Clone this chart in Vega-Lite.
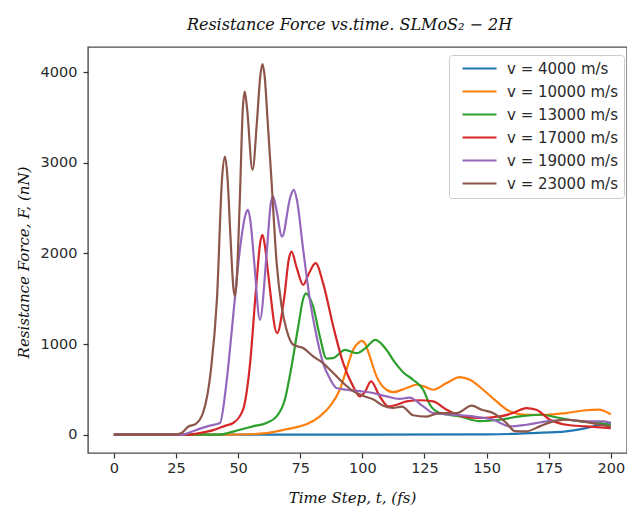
{
  "$schema": "https://vega.github.io/schema/vega-lite/v6.json",
  "width": 539,
  "height": 406,
  "autosize": {"type": "none"},
  "padding": {"left": 88, "top": 47, "right": 0, "bottom": 58},
  "background": "white",
  "title": {"text": "Resistance Force vs.time. SLMoS₂ − 2H", "font": "DejaVu Serif", "fontStyle": "italic", "fontWeight": "normal", "fontSize": 16, "color": "#111111", "anchor": "middle", "frame": "group", "offset": 14, "dx": -8},
  "config": {
    "view": {"stroke": "#4d4d4d", "strokeWidth": 1.4},
    "axis": {"grid": false, "domain": false, "tickSize": 5, "tickColor": "#333333", "tickWidth": 1.2, "labelFont": "DejaVu Sans", "labelFontSize": 14.5, "labelColor": "#2a2a2a", "titleFont": "DejaVu Serif", "titleFontStyle": "italic", "titleFontWeight": "normal", "titleFontSize": 15, "titleColor": "#111111"}
  },
  "data": {"values": [
    {"v": "v = 4000 m/s", "t": 0, "F": 0}, {"v": "v = 4000 m/s", "t": 100, "F": 0}, {"v": "v = 4000 m/s", "t": 150, "F": 3}, {"v": "v = 4000 m/s", "t": 160, "F": 8}, {"v": "v = 4000 m/s", "t": 168.7, "F": 18}, {"v": "v = 4000 m/s", "t": 182, "F": 37}, {"v": "v = 4000 m/s", "t": 190, "F": 73}, {"v": "v = 4000 m/s", "t": 195.6, "F": 110}, {"v": "v = 4000 m/s", "t": 200, "F": 130},

    {"v": "v = 10000 m/s", "t": 0, "F": 0}, {"v": "v = 10000 m/s", "t": 45, "F": 0}, {"v": "v = 10000 m/s", "t": 55, "F": 5}, {"v": "v = 10000 m/s", "t": 61.4, "F": 18}, {"v": "v = 10000 m/s", "t": 69.5, "F": 60}, {"v": "v = 10000 m/s", "t": 74.8, "F": 92}, {"v": "v = 10000 m/s", "t": 77.5, "F": 115}, {"v": "v = 10000 m/s", "t": 82.9, "F": 202}, {"v": "v = 10000 m/s", "t": 86.9, "F": 312}, {"v": "v = 10000 m/s", "t": 90.9, "F": 496}, {"v": "v = 10000 m/s", "t": 93.6, "F": 717}, {"v": "v = 10000 m/s", "t": 96.3, "F": 937}, {"v": "v = 10000 m/s", "t": 98.6, "F": 1020}, {"v": "v = 10000 m/s", "t": 99.8, "F": 1035}, {"v": "v = 10000 m/s", "t": 101, "F": 1010}, {"v": "v = 10000 m/s", "t": 103, "F": 863}, {"v": "v = 10000 m/s", "t": 105.7, "F": 643}, {"v": "v = 10000 m/s", "t": 109.7, "F": 496}, {"v": "v = 10000 m/s", "t": 112.4, "F": 470}, {"v": "v = 10000 m/s", "t": 117.8, "F": 515}, {"v": "v = 10000 m/s", "t": 121.8, "F": 551}, {"v": "v = 10000 m/s", "t": 125, "F": 530}, {"v": "v = 10000 m/s", "t": 128.5, "F": 496}, {"v": "v = 10000 m/s", "t": 133.9, "F": 570}, {"v": "v = 10000 m/s", "t": 139.2, "F": 636}, {"v": "v = 10000 m/s", "t": 143.3, "F": 606}, {"v": "v = 10000 m/s", "t": 148.6, "F": 496}, {"v": "v = 10000 m/s", "t": 154, "F": 367}, {"v": "v = 10000 m/s", "t": 159.4, "F": 257}, {"v": "v = 10000 m/s", "t": 166, "F": 220}, {"v": "v = 10000 m/s", "t": 174, "F": 220}, {"v": "v = 10000 m/s", "t": 182, "F": 239}, {"v": "v = 10000 m/s", "t": 190, "F": 270}, {"v": "v = 10000 m/s", "t": 195, "F": 276}, {"v": "v = 10000 m/s", "t": 200, "F": 225},

    {"v": "v = 13000 m/s", "t": 0, "F": 0}, {"v": "v = 13000 m/s", "t": 42, "F": 0}, {"v": "v = 13000 m/s", "t": 50.7, "F": 55}, {"v": "v = 13000 m/s", "t": 56, "F": 92}, {"v": "v = 13000 m/s", "t": 61.4, "F": 129}, {"v": "v = 13000 m/s", "t": 65.5, "F": 202}, {"v": "v = 13000 m/s", "t": 68.8, "F": 386}, {"v": "v = 13000 m/s", "t": 71.5, "F": 753}, {"v": "v = 13000 m/s", "t": 74.2, "F": 1194}, {"v": "v = 13000 m/s", "t": 76.2, "F": 1500}, {"v": "v = 13000 m/s", "t": 77.3, "F": 1560}, {"v": "v = 13000 m/s", "t": 78.4, "F": 1530}, {"v": "v = 13000 m/s", "t": 80.2, "F": 1415}, {"v": "v = 13000 m/s", "t": 82.9, "F": 1084}, {"v": "v = 13000 m/s", "t": 85.6, "F": 840}, {"v": "v = 13000 m/s", "t": 88.2, "F": 845}, {"v": "v = 13000 m/s", "t": 93, "F": 937}, {"v": "v = 13000 m/s", "t": 97.7, "F": 900}, {"v": "v = 13000 m/s", "t": 101, "F": 950}, {"v": "v = 13000 m/s", "t": 105.3, "F": 1047}, {"v": "v = 13000 m/s", "t": 109.7, "F": 937}, {"v": "v = 13000 m/s", "t": 113, "F": 800}, {"v": "v = 13000 m/s", "t": 116.4, "F": 690}, {"v": "v = 13000 m/s", "t": 120.4, "F": 606}, {"v": "v = 13000 m/s", "t": 124.5, "F": 496}, {"v": "v = 13000 m/s", "t": 127.2, "F": 330}, {"v": "v = 13000 m/s", "t": 131.2, "F": 239}, {"v": "v = 13000 m/s", "t": 139.2, "F": 202}, {"v": "v = 13000 m/s", "t": 147.3, "F": 150}, {"v": "v = 13000 m/s", "t": 155.3, "F": 165}, {"v": "v = 13000 m/s", "t": 163.4, "F": 202}, {"v": "v = 13000 m/s", "t": 171.4, "F": 220}, {"v": "v = 13000 m/s", "t": 179.5, "F": 184}, {"v": "v = 13000 m/s", "t": 187.5, "F": 147}, {"v": "v = 13000 m/s", "t": 195.6, "F": 129}, {"v": "v = 13000 m/s", "t": 200, "F": 110},

    {"v": "v = 17000 m/s", "t": 0, "F": 0}, {"v": "v = 17000 m/s", "t": 30, "F": 0}, {"v": "v = 17000 m/s", "t": 35, "F": 20}, {"v": "v = 17000 m/s", "t": 40, "F": 50}, {"v": "v = 17000 m/s", "t": 45, "F": 100}, {"v": "v = 17000 m/s", "t": 48, "F": 129}, {"v": "v = 17000 m/s", "t": 52, "F": 276}, {"v": "v = 17000 m/s", "t": 54.7, "F": 753}, {"v": "v = 17000 m/s", "t": 57.4, "F": 1672}, {"v": "v = 17000 m/s", "t": 58.9, "F": 2120}, {"v": "v = 17000 m/s", "t": 59.8, "F": 2205}, {"v": "v = 17000 m/s", "t": 60.7, "F": 2100}, {"v": "v = 17000 m/s", "t": 62, "F": 1800}, {"v": "v = 17000 m/s", "t": 65.7, "F": 1121}, {"v": "v = 17000 m/s", "t": 68.5, "F": 1500}, {"v": "v = 17000 m/s", "t": 70.5, "F": 1950}, {"v": "v = 17000 m/s", "t": 71.5, "F": 2021}, {"v": "v = 17000 m/s", "t": 73.5, "F": 1850}, {"v": "v = 17000 m/s", "t": 76.2, "F": 1654}, {"v": "v = 17000 m/s", "t": 78.5, "F": 1780}, {"v": "v = 17000 m/s", "t": 81.2, "F": 1893}, {"v": "v = 17000 m/s", "t": 84.2, "F": 1672}, {"v": "v = 17000 m/s", "t": 88.3, "F": 1194}, {"v": "v = 17000 m/s", "t": 92.3, "F": 790}, {"v": "v = 17000 m/s", "t": 96.3, "F": 533}, {"v": "v = 17000 m/s", "t": 99, "F": 423}, {"v": "v = 17000 m/s", "t": 101, "F": 470}, {"v": "v = 17000 m/s", "t": 103.5, "F": 588}, {"v": "v = 17000 m/s", "t": 107, "F": 423}, {"v": "v = 17000 m/s", "t": 110.5, "F": 312}, {"v": "v = 17000 m/s", "t": 113.8, "F": 331}, {"v": "v = 17000 m/s", "t": 117.8, "F": 367}, {"v": "v = 17000 m/s", "t": 123, "F": 380}, {"v": "v = 17000 m/s", "t": 128.5, "F": 367}, {"v": "v = 17000 m/s", "t": 133.9, "F": 276}, {"v": "v = 17000 m/s", "t": 140.6, "F": 202}, {"v": "v = 17000 m/s", "t": 147.3, "F": 184}, {"v": "v = 17000 m/s", "t": 155.3, "F": 202}, {"v": "v = 17000 m/s", "t": 160.7, "F": 239}, {"v": "v = 17000 m/s", "t": 166, "F": 294}, {"v": "v = 17000 m/s", "t": 170, "F": 276}, {"v": "v = 17000 m/s", "t": 175.5, "F": 165}, {"v": "v = 17000 m/s", "t": 182, "F": 110}, {"v": "v = 17000 m/s", "t": 190, "F": 92}, {"v": "v = 17000 m/s", "t": 200, "F": 73},

    {"v": "v = 19000 m/s", "t": 0, "F": 0}, {"v": "v = 19000 m/s", "t": 27, "F": 0}, {"v": "v = 19000 m/s", "t": 31, "F": 30}, {"v": "v = 19000 m/s", "t": 35, "F": 70}, {"v": "v = 19000 m/s", "t": 38.6, "F": 100}, {"v": "v = 19000 m/s", "t": 42.7, "F": 129}, {"v": "v = 19000 m/s", "t": 45.3, "F": 570}, {"v": "v = 19000 m/s", "t": 48, "F": 1304}, {"v": "v = 19000 m/s", "t": 50.7, "F": 2040}, {"v": "v = 19000 m/s", "t": 53, "F": 2430}, {"v": "v = 19000 m/s", "t": 54, "F": 2481}, {"v": "v = 19000 m/s", "t": 55, "F": 2350}, {"v": "v = 19000 m/s", "t": 56.5, "F": 1900}, {"v": "v = 19000 m/s", "t": 58.8, "F": 1268}, {"v": "v = 19000 m/s", "t": 61.5, "F": 2000}, {"v": "v = 19000 m/s", "t": 63.2, "F": 2560}, {"v": "v = 19000 m/s", "t": 64.1, "F": 2627}, {"v": "v = 19000 m/s", "t": 65.3, "F": 2500}, {"v": "v = 19000 m/s", "t": 67.7, "F": 2186}, {"v": "v = 19000 m/s", "t": 71, "F": 2620}, {"v": "v = 19000 m/s", "t": 72.4, "F": 2701}, {"v": "v = 19000 m/s", "t": 73.6, "F": 2600}, {"v": "v = 19000 m/s", "t": 76.2, "F": 2040}, {"v": "v = 19000 m/s", "t": 78.9, "F": 1488}, {"v": "v = 19000 m/s", "t": 81.6, "F": 1084}, {"v": "v = 19000 m/s", "t": 84.2, "F": 790}, {"v": "v = 19000 m/s", "t": 86.9, "F": 620}, {"v": "v = 19000 m/s", "t": 89.6, "F": 515}, {"v": "v = 19000 m/s", "t": 93.6, "F": 496}, {"v": "v = 19000 m/s", "t": 99, "F": 480}, {"v": "v = 19000 m/s", "t": 104.3, "F": 460}, {"v": "v = 19000 m/s", "t": 109.7, "F": 423}, {"v": "v = 19000 m/s", "t": 115, "F": 395}, {"v": "v = 19000 m/s", "t": 119, "F": 410}, {"v": "v = 19000 m/s", "t": 124.5, "F": 312}, {"v": "v = 19000 m/s", "t": 128.5, "F": 239}, {"v": "v = 19000 m/s", "t": 136.5, "F": 220}, {"v": "v = 19000 m/s", "t": 144.6, "F": 202}, {"v": "v = 19000 m/s", "t": 152.6, "F": 165}, {"v": "v = 19000 m/s", "t": 159.4, "F": 92}, {"v": "v = 19000 m/s", "t": 166, "F": 110}, {"v": "v = 19000 m/s", "t": 174, "F": 147}, {"v": "v = 19000 m/s", "t": 182, "F": 165}, {"v": "v = 19000 m/s", "t": 190, "F": 147}, {"v": "v = 19000 m/s", "t": 197, "F": 147}, {"v": "v = 19000 m/s", "t": 200, "F": 130},

    {"v": "v = 23000 m/s", "t": 0, "F": 0}, {"v": "v = 23000 m/s", "t": 24, "F": 0}, {"v": "v = 23000 m/s", "t": 27, "F": 15}, {"v": "v = 23000 m/s", "t": 30, "F": 90}, {"v": "v = 23000 m/s", "t": 33, "F": 120}, {"v": "v = 23000 m/s", "t": 36, "F": 250}, {"v": "v = 23000 m/s", "t": 39, "F": 700}, {"v": "v = 23000 m/s", "t": 41.5, "F": 1500}, {"v": "v = 23000 m/s", "t": 43.6, "F": 2850}, {"v": "v = 23000 m/s", "t": 44.7, "F": 3068}, {"v": "v = 23000 m/s", "t": 45.7, "F": 2850}, {"v": "v = 23000 m/s", "t": 46.9, "F": 2200}, {"v": "v = 23000 m/s", "t": 48.1, "F": 1620}, {"v": "v = 23000 m/s", "t": 48.7, "F": 1530}, {"v": "v = 23000 m/s", "t": 49.3, "F": 1650}, {"v": "v = 23000 m/s", "t": 50.7, "F": 2600}, {"v": "v = 23000 m/s", "t": 51.9, "F": 3600}, {"v": "v = 23000 m/s", "t": 52.7, "F": 3785}, {"v": "v = 23000 m/s", "t": 53.6, "F": 3600}, {"v": "v = 23000 m/s", "t": 55.8, "F": 2922}, {"v": "v = 23000 m/s", "t": 57.7, "F": 3500}, {"v": "v = 23000 m/s", "t": 58.9, "F": 3950}, {"v": "v = 23000 m/s", "t": 59.8, "F": 4090}, {"v": "v = 23000 m/s", "t": 60.7, "F": 3950}, {"v": "v = 23000 m/s", "t": 61.8, "F": 3500}, {"v": "v = 23000 m/s", "t": 63.5, "F": 2778}, {"v": "v = 23000 m/s", "t": 65.5, "F": 1900}, {"v": "v = 23000 m/s", "t": 67.5, "F": 1415}, {"v": "v = 23000 m/s", "t": 69.5, "F": 1158}, {"v": "v = 23000 m/s", "t": 72.2, "F": 992}, {"v": "v = 23000 m/s", "t": 76.2, "F": 956}, {"v": "v = 23000 m/s", "t": 80.2, "F": 864}, {"v": "v = 23000 m/s", "t": 84.2, "F": 790}, {"v": "v = 23000 m/s", "t": 88.3, "F": 680}, {"v": "v = 23000 m/s", "t": 92.3, "F": 570}, {"v": "v = 23000 m/s", "t": 96.3, "F": 480}, {"v": "v = 23000 m/s", "t": 100.3, "F": 430}, {"v": "v = 23000 m/s", "t": 104.3, "F": 390}, {"v": "v = 23000 m/s", "t": 108.4, "F": 320}, {"v": "v = 23000 m/s", "t": 112.4, "F": 295}, {"v": "v = 23000 m/s", "t": 116, "F": 310}, {"v": "v = 23000 m/s", "t": 120.4, "F": 215}, {"v": "v = 23000 m/s", "t": 125.8, "F": 200}, {"v": "v = 23000 m/s", "t": 131, "F": 239}, {"v": "v = 23000 m/s", "t": 138, "F": 239}, {"v": "v = 23000 m/s", "t": 144, "F": 320}, {"v": "v = 23000 m/s", "t": 148, "F": 276}, {"v": "v = 23000 m/s", "t": 152.6, "F": 239}, {"v": "v = 23000 m/s", "t": 158, "F": 129}, {"v": "v = 23000 m/s", "t": 161.4, "F": 40}, {"v": "v = 23000 m/s", "t": 166, "F": 37}, {"v": "v = 23000 m/s", "t": 171.4, "F": 92}, {"v": "v = 23000 m/s", "t": 176.8, "F": 147}, {"v": "v = 23000 m/s", "t": 182, "F": 165}, {"v": "v = 23000 m/s", "t": 188.9, "F": 147}, {"v": "v = 23000 m/s", "t": 195.6, "F": 110}, {"v": "v = 23000 m/s", "t": 200, "F": 92}
  ]},
  "mark": {"type": "line", "interpolate": "monotone", "strokeWidth": 2.2},
  "encoding": {
    "x": {"field": "t", "type": "quantitative", "scale": {"domain": [-10.4, 206.5], "nice": false, "zero": false},
      "axis": {"values": [0, 25, 50, 75, 100, 125, 150, 175, 200], "labelPadding": 3, "title": "Time Step, t, (fs)", "titleX": 264, "titleY": 44, "titleBaseline": "middle", "titleAlign": "center"}},
    "y": {"field": "F", "type": "quantitative", "scale": {"domain": [-202, 4278], "nice": false, "zero": false},
      "axis": {"values": [0, 1000, 2000, 3000, 4000], "format": "d", "labelPadding": 6, "title": "Resistance Force, F, (nN)", "titleX": -65, "titleY": 215, "titleAngle": -90, "titleBaseline": "middle", "titleAlign": "center"}},
    "color": {"field": "v", "type": "nominal",
      "scale": {"domain": ["v = 4000 m/s", "v = 10000 m/s", "v = 13000 m/s", "v = 17000 m/s", "v = 19000 m/s", "v = 23000 m/s"], "range": ["#1f77b4", "#ff7f0e", "#2ca02c", "#d62728", "#9467bd", "#8c564b"]},
      "legend": {"orient": "none", "legendX": 361, "legendY": 8, "title": null, "symbolType": "M0,0H34", "symbolSize": 4, "symbolStrokeWidth": 2.2, "labelFont": "DejaVu Sans", "labelFontSize": 15, "labelColor": "#2a2a2a", "labelOffset": 37, "labelLimit": 300, "rowPadding": 7, "padding": 6, "strokeColor": "#cccccc", "fillColor": "white", "cornerRadius": 3}}
  }
}
